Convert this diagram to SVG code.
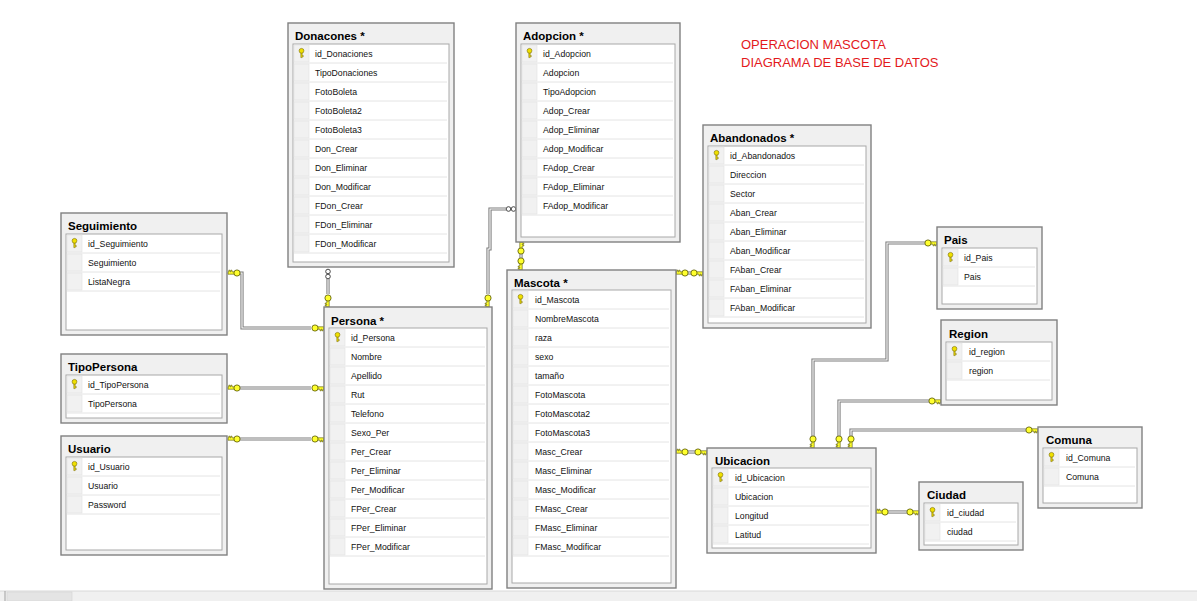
<svg xmlns="http://www.w3.org/2000/svg" xmlns:xlink="http://www.w3.org/1999/xlink" width="1197" height="601" viewBox="0 0 1197 601">
<style>
.ob{fill:#f0f0f0;stroke:#808080;stroke-width:1.4}
.ib{fill:#ffffff;stroke:#a8a8a8;stroke-width:1}
.ic{fill:#f1f1f1;stroke:#e2e2e2;stroke-width:0.6}
.sep{stroke:#e4e4e4;stroke-width:1}
.t{font-family:"Liberation Sans",Arial,sans-serif;font-weight:bold;font-size:11.5px;fill:#000}
.r{font-family:"Liberation Sans",Arial,sans-serif;font-size:8.7px;fill:#111}
.c1{fill:none;stroke:#7d7d7d;stroke-width:3.2}
.c2{fill:none;stroke:#ffffff;stroke-width:1.1}
.red{font-family:"Liberation Sans",Arial,sans-serif;font-size:13px;fill:#e3191c}
</style>
<defs>
<g id="k">
<path d="M2.5,-1.2 H9 V1.2 H8.2 V2.8 H7 V1.2 H6.2 V2.8 H5 V1.2 H2.5 Z" fill="#ffff2e" stroke="#555500" stroke-width="0.6"/>
<circle r="3.1" fill="#ffff2e" stroke="#555500" stroke-width="0.8"/>
</g>
<g id="pk">
<path d="M-0.7,-0.5 V4.6 H0.7 V3.6 H1.8 V2.6 H0.7 V-0.5 Z" fill="#e8d800" stroke="#7a6c00" stroke-width="0.5"/>
<circle cy="-2.2" r="2.4" fill="#efe000" stroke="#7a6c00" stroke-width="0.6"/>
</g>
<g id="inf">
<circle cx="-2.5" r="2.3" fill="#fff" stroke="#333" stroke-width="0.9"/>
<circle cx="2.5" r="2.3" fill="#fff" stroke="#333" stroke-width="0.9"/>
</g>
</defs>
<rect width="1197" height="601" fill="#ffffff"/>

<g id="connectors">
<path class="c1" d="M240,273 H242 V328 H311"/><path class="c2" d="M240,273 H242 V328 H311"/>
<path class="c1" d="M240,388 H311"/><path class="c2" d="M240,388 H311"/>
<path class="c1" d="M240,439 H311"/><path class="c2" d="M240,439 H311"/>
<path class="c1" d="M328,279 V294"/><path class="c2" d="M328,279 V294"/>
<path class="c1" d="M506,209 H490 V249 H488 V294"/><path class="c2" d="M506,209 H490 V249 H488 V294"/>
<path class="c1" d="M521,254 V258"/><path class="c2" d="M521,254 V258"/>
<path class="c1" d="M688,273 H691"/><path class="c2" d="M688,273 H691"/>
<path class="c1" d="M688,452 H695"/><path class="c2" d="M688,452 H695"/>
<path class="c1" d="M813,436 V360 H887 V243 H925"/><path class="c2" d="M813,436 V360 H887 V243 H925"/>
<path class="c1" d="M839,436 V401 H929"/><path class="c2" d="M839,436 V401 H929"/>
<path class="c1" d="M851,436 V430 H1026"/><path class="c2" d="M851,436 V430 H1026"/>
<path class="c1" d="M888,512 H907"/><path class="c2" d="M888,512 H907"/>
<use xlink:href="#k" transform="translate(237,273) rotate(180)"/>
<use xlink:href="#k" transform="translate(315,328)"/>
<use xlink:href="#k" transform="translate(237,388) rotate(180)"/>
<use xlink:href="#k" transform="translate(315,388)"/>
<use xlink:href="#k" transform="translate(237,439) rotate(180)"/>
<use xlink:href="#k" transform="translate(315,439)"/>
<use xlink:href="#inf" transform="translate(328,274) rotate(90)"/>
<use xlink:href="#k" transform="translate(328,298) rotate(90)"/>
<use xlink:href="#inf" transform="translate(511,209)"/>
<use xlink:href="#k" transform="translate(488,298) rotate(90)"/>
<use xlink:href="#k" transform="translate(521,251) rotate(-90)"/>
<use xlink:href="#k" transform="translate(521,261) rotate(90)"/>
<use xlink:href="#k" transform="translate(685,273) rotate(180)"/>
<use xlink:href="#k" transform="translate(694,273)"/>
<use xlink:href="#k" transform="translate(685,452) rotate(180)"/>
<use xlink:href="#k" transform="translate(698,452)"/>
<use xlink:href="#k" transform="translate(813,439) rotate(90)"/>
<use xlink:href="#k" transform="translate(928,243)"/>
<use xlink:href="#k" transform="translate(839,439) rotate(90)"/>
<use xlink:href="#k" transform="translate(932,401)"/>
<use xlink:href="#k" transform="translate(851,439) rotate(90)"/>
<use xlink:href="#k" transform="translate(1029,430)"/>
<use xlink:href="#k" transform="translate(885,512) rotate(180)"/>
<use xlink:href="#k" transform="translate(910,512)"/>
</g>

<g id="Donaciones">
<rect class="ob" x="288" y="23" width="166" height="244"/>
<text class="t" x="295" y="40">Donacones *</text>
<rect class="ib" x="293" y="44" width="156" height="218"/>
<rect class="ic" x="294" y="45" width="15" height="17"/><line class="sep" x1="294" y1="63" x2="447" y2="63"/>
<rect class="ic" x="294" y="64" width="15" height="17"/><line class="sep" x1="294" y1="82" x2="447" y2="82"/>
<rect class="ic" x="294" y="83" width="15" height="17"/><line class="sep" x1="294" y1="101" x2="447" y2="101"/>
<rect class="ic" x="294" y="102" width="15" height="17"/><line class="sep" x1="294" y1="120" x2="447" y2="120"/>
<rect class="ic" x="294" y="121" width="15" height="17"/><line class="sep" x1="294" y1="139" x2="447" y2="139"/>
<rect class="ic" x="294" y="140" width="15" height="17"/><line class="sep" x1="294" y1="158" x2="447" y2="158"/>
<rect class="ic" x="294" y="159" width="15" height="17"/><line class="sep" x1="294" y1="177" x2="447" y2="177"/>
<rect class="ic" x="294" y="178" width="15" height="17"/><line class="sep" x1="294" y1="196" x2="447" y2="196"/>
<rect class="ic" x="294" y="197" width="15" height="17"/><line class="sep" x1="294" y1="215" x2="447" y2="215"/>
<rect class="ic" x="294" y="216" width="15" height="17"/><line class="sep" x1="294" y1="234" x2="447" y2="234"/>
<rect class="ic" x="294" y="235" width="15" height="17"/><line class="sep" x1="294" y1="253" x2="447" y2="253"/>
<use xlink:href="#pk" x="301.5" y="53"/>
<text class="r" x="315" y="57">id_Donaciones</text>
<text class="r" x="315" y="76">TipoDonaciones</text>
<text class="r" x="315" y="95">FotoBoleta</text>
<text class="r" x="315" y="114">FotoBoleta2</text>
<text class="r" x="315" y="133">FotoBoleta3</text>
<text class="r" x="315" y="152">Don_Crear</text>
<text class="r" x="315" y="171">Don_Eliminar</text>
<text class="r" x="315" y="190">Don_Modificar</text>
<text class="r" x="315" y="209">FDon_Crear</text>
<text class="r" x="315" y="228">FDon_Eliminar</text>
<text class="r" x="315" y="247">FDon_Modificar</text>
</g>

<g id="Adopcion">
<rect class="ob" x="516" y="23" width="164" height="219"/>
<text class="t" x="523" y="40">Adopcion *</text>
<rect class="ib" x="521" y="44" width="154" height="193"/>
<rect class="ic" x="522" y="45" width="15" height="17"/><line class="sep" x1="522" y1="63" x2="673" y2="63"/>
<rect class="ic" x="522" y="64" width="15" height="17"/><line class="sep" x1="522" y1="82" x2="673" y2="82"/>
<rect class="ic" x="522" y="83" width="15" height="17"/><line class="sep" x1="522" y1="101" x2="673" y2="101"/>
<rect class="ic" x="522" y="102" width="15" height="17"/><line class="sep" x1="522" y1="120" x2="673" y2="120"/>
<rect class="ic" x="522" y="121" width="15" height="17"/><line class="sep" x1="522" y1="139" x2="673" y2="139"/>
<rect class="ic" x="522" y="140" width="15" height="17"/><line class="sep" x1="522" y1="158" x2="673" y2="158"/>
<rect class="ic" x="522" y="159" width="15" height="17"/><line class="sep" x1="522" y1="177" x2="673" y2="177"/>
<rect class="ic" x="522" y="178" width="15" height="17"/><line class="sep" x1="522" y1="196" x2="673" y2="196"/>
<rect class="ic" x="522" y="197" width="15" height="17"/><line class="sep" x1="522" y1="215" x2="673" y2="215"/>
<use xlink:href="#pk" x="529.5" y="53"/>
<text class="r" x="543" y="57">id_Adopcion</text>
<text class="r" x="543" y="76">Adopcion</text>
<text class="r" x="543" y="95">TipoAdopcion</text>
<text class="r" x="543" y="114">Adop_Crear</text>
<text class="r" x="543" y="133">Adop_Eliminar</text>
<text class="r" x="543" y="152">Adop_Modificar</text>
<text class="r" x="543" y="171">FAdop_Crear</text>
<text class="r" x="543" y="190">FAdop_Eliminar</text>
<text class="r" x="543" y="209">FAdop_Modificar</text>
</g>

<g id="Abandonados">
<rect class="ob" x="703" y="125" width="168" height="203"/>
<text class="t" x="710" y="142">Abandonados *</text>
<rect class="ib" x="708" y="146" width="158" height="177"/>
<rect class="ic" x="709" y="147" width="15" height="17"/><line class="sep" x1="709" y1="165" x2="864" y2="165"/>
<rect class="ic" x="709" y="166" width="15" height="17"/><line class="sep" x1="709" y1="184" x2="864" y2="184"/>
<rect class="ic" x="709" y="185" width="15" height="17"/><line class="sep" x1="709" y1="203" x2="864" y2="203"/>
<rect class="ic" x="709" y="204" width="15" height="17"/><line class="sep" x1="709" y1="222" x2="864" y2="222"/>
<rect class="ic" x="709" y="223" width="15" height="17"/><line class="sep" x1="709" y1="241" x2="864" y2="241"/>
<rect class="ic" x="709" y="242" width="15" height="17"/><line class="sep" x1="709" y1="260" x2="864" y2="260"/>
<rect class="ic" x="709" y="261" width="15" height="17"/><line class="sep" x1="709" y1="279" x2="864" y2="279"/>
<rect class="ic" x="709" y="280" width="15" height="17"/><line class="sep" x1="709" y1="298" x2="864" y2="298"/>
<rect class="ic" x="709" y="299" width="15" height="17"/><line class="sep" x1="709" y1="317" x2="864" y2="317"/>
<use xlink:href="#pk" x="716.5" y="155"/>
<text class="r" x="730" y="159">id_Abandonados</text>
<text class="r" x="730" y="178">Direccion</text>
<text class="r" x="730" y="197">Sector</text>
<text class="r" x="730" y="216">Aban_Crear</text>
<text class="r" x="730" y="235">Aban_Eliminar</text>
<text class="r" x="730" y="254">Aban_Modificar</text>
<text class="r" x="730" y="273">FAban_Crear</text>
<text class="r" x="730" y="292">FAban_Eliminar</text>
<text class="r" x="730" y="311">FAban_Modificar</text>
</g>

<g id="Seguimiento">
<rect class="ob" x="61" y="213" width="166" height="122"/>
<text class="t" x="68" y="230">Seguimiento</text>
<rect class="ib" x="66" y="234" width="156" height="96"/>
<rect class="ic" x="67" y="235" width="15" height="17"/><line class="sep" x1="67" y1="253" x2="220" y2="253"/>
<rect class="ic" x="67" y="254" width="15" height="17"/><line class="sep" x1="67" y1="272" x2="220" y2="272"/>
<rect class="ic" x="67" y="273" width="15" height="17"/><line class="sep" x1="67" y1="291" x2="220" y2="291"/>
<use xlink:href="#pk" x="74.5" y="243"/>
<text class="r" x="88" y="247">id_Seguimiento</text>
<text class="r" x="88" y="266">Seguimiento</text>
<text class="r" x="88" y="285">ListaNegra</text>
</g>

<g id="TipoPersona">
<rect class="ob" x="61" y="354" width="166" height="69"/>
<text class="t" x="68" y="371">TipoPersona</text>
<rect class="ib" x="66" y="375" width="156" height="43"/>
<rect class="ic" x="67" y="376" width="15" height="17"/><line class="sep" x1="67" y1="394" x2="220" y2="394"/>
<rect class="ic" x="67" y="395" width="15" height="17"/><line class="sep" x1="67" y1="413" x2="220" y2="413"/>
<use xlink:href="#pk" x="74.5" y="384"/>
<text class="r" x="88" y="388">id_TipoPersona</text>
<text class="r" x="88" y="407">TipoPersona</text>
</g>

<g id="Usuario">
<rect class="ob" x="61" y="436" width="166" height="119"/>
<text class="t" x="68" y="453">Usuario</text>
<rect class="ib" x="66" y="457" width="156" height="93"/>
<rect class="ic" x="67" y="458" width="15" height="17"/><line class="sep" x1="67" y1="476" x2="220" y2="476"/>
<rect class="ic" x="67" y="477" width="15" height="17"/><line class="sep" x1="67" y1="495" x2="220" y2="495"/>
<rect class="ic" x="67" y="496" width="15" height="17"/><line class="sep" x1="67" y1="514" x2="220" y2="514"/>
<use xlink:href="#pk" x="74.5" y="466"/>
<text class="r" x="88" y="470">id_Usuario</text>
<text class="r" x="88" y="489">Usuario</text>
<text class="r" x="88" y="508">Password</text>
</g>

<g id="Persona">
<rect class="ob" x="324" y="307" width="168" height="282"/>
<text class="t" x="331" y="325">Persona *</text>
<rect class="ib" x="329" y="328" width="158" height="256"/>
<rect class="ic" x="330" y="329" width="15" height="17"/><line class="sep" x1="330" y1="347" x2="485" y2="347"/>
<rect class="ic" x="330" y="348" width="15" height="17"/><line class="sep" x1="330" y1="366" x2="485" y2="366"/>
<rect class="ic" x="330" y="367" width="15" height="17"/><line class="sep" x1="330" y1="385" x2="485" y2="385"/>
<rect class="ic" x="330" y="386" width="15" height="17"/><line class="sep" x1="330" y1="404" x2="485" y2="404"/>
<rect class="ic" x="330" y="405" width="15" height="17"/><line class="sep" x1="330" y1="423" x2="485" y2="423"/>
<rect class="ic" x="330" y="424" width="15" height="17"/><line class="sep" x1="330" y1="442" x2="485" y2="442"/>
<rect class="ic" x="330" y="443" width="15" height="17"/><line class="sep" x1="330" y1="461" x2="485" y2="461"/>
<rect class="ic" x="330" y="462" width="15" height="17"/><line class="sep" x1="330" y1="480" x2="485" y2="480"/>
<rect class="ic" x="330" y="481" width="15" height="17"/><line class="sep" x1="330" y1="499" x2="485" y2="499"/>
<rect class="ic" x="330" y="500" width="15" height="17"/><line class="sep" x1="330" y1="518" x2="485" y2="518"/>
<rect class="ic" x="330" y="519" width="15" height="17"/><line class="sep" x1="330" y1="537" x2="485" y2="537"/>
<rect class="ic" x="330" y="538" width="15" height="17"/><line class="sep" x1="330" y1="556" x2="485" y2="556"/>
<use xlink:href="#pk" x="337.5" y="337"/>
<text class="r" x="351" y="341">id_Persona</text>
<text class="r" x="351" y="360">Nombre</text>
<text class="r" x="351" y="379">Apellido</text>
<text class="r" x="351" y="398">Rut</text>
<text class="r" x="351" y="417">Telefono</text>
<text class="r" x="351" y="436">Sexo_Per</text>
<text class="r" x="351" y="455">Per_Crear</text>
<text class="r" x="351" y="474">Per_Eliminar</text>
<text class="r" x="351" y="493">Per_Modificar</text>
<text class="r" x="351" y="512">FPer_Crear</text>
<text class="r" x="351" y="531">FPer_Eliminar</text>
<text class="r" x="351" y="550">FPer_Modificar</text>
</g>

<g id="Mascota">
<rect class="ob" x="507" y="270" width="169" height="318"/>
<text class="t" x="514" y="287">Mascota *</text>
<rect class="ib" x="512" y="290" width="159" height="293"/>
<rect class="ic" x="513" y="291" width="15" height="17"/><line class="sep" x1="513" y1="309" x2="669" y2="309"/>
<rect class="ic" x="513" y="310" width="15" height="17"/><line class="sep" x1="513" y1="328" x2="669" y2="328"/>
<rect class="ic" x="513" y="329" width="15" height="17"/><line class="sep" x1="513" y1="347" x2="669" y2="347"/>
<rect class="ic" x="513" y="348" width="15" height="17"/><line class="sep" x1="513" y1="366" x2="669" y2="366"/>
<rect class="ic" x="513" y="367" width="15" height="17"/><line class="sep" x1="513" y1="385" x2="669" y2="385"/>
<rect class="ic" x="513" y="386" width="15" height="17"/><line class="sep" x1="513" y1="404" x2="669" y2="404"/>
<rect class="ic" x="513" y="405" width="15" height="17"/><line class="sep" x1="513" y1="423" x2="669" y2="423"/>
<rect class="ic" x="513" y="424" width="15" height="17"/><line class="sep" x1="513" y1="442" x2="669" y2="442"/>
<rect class="ic" x="513" y="443" width="15" height="17"/><line class="sep" x1="513" y1="461" x2="669" y2="461"/>
<rect class="ic" x="513" y="462" width="15" height="17"/><line class="sep" x1="513" y1="480" x2="669" y2="480"/>
<rect class="ic" x="513" y="481" width="15" height="17"/><line class="sep" x1="513" y1="499" x2="669" y2="499"/>
<rect class="ic" x="513" y="500" width="15" height="17"/><line class="sep" x1="513" y1="518" x2="669" y2="518"/>
<rect class="ic" x="513" y="519" width="15" height="17"/><line class="sep" x1="513" y1="537" x2="669" y2="537"/>
<rect class="ic" x="513" y="538" width="15" height="17"/><line class="sep" x1="513" y1="556" x2="669" y2="556"/>
<use xlink:href="#pk" x="520.5" y="299"/>
<text class="r" x="535" y="303">id_Mascota</text>
<text class="r" x="535" y="322">NombreMascota</text>
<text class="r" x="535" y="341">raza</text>
<text class="r" x="535" y="360">sexo</text>
<text class="r" x="535" y="379">tamaño</text>
<text class="r" x="535" y="398">FotoMascota</text>
<text class="r" x="535" y="417">FotoMascota2</text>
<text class="r" x="535" y="436">FotoMascota3</text>
<text class="r" x="535" y="455">Masc_Crear</text>
<text class="r" x="535" y="474">Masc_Eliminar</text>
<text class="r" x="535" y="493">Masc_Modificar</text>
<text class="r" x="535" y="512">FMasc_Crear</text>
<text class="r" x="535" y="531">FMasc_Eliminar</text>
<text class="r" x="535" y="550">FMasc_Modificar</text>
</g>

<g id="Ubicacion">
<rect class="ob" x="707" y="448" width="169" height="105"/>
<text class="t" x="715" y="465">Ubicacion</text>
<rect class="ib" x="712" y="468" width="159" height="80"/>
<rect class="ic" x="713" y="469" width="15" height="17"/><line class="sep" x1="713" y1="487" x2="869" y2="487"/>
<rect class="ic" x="713" y="488" width="15" height="17"/><line class="sep" x1="713" y1="506" x2="869" y2="506"/>
<rect class="ic" x="713" y="507" width="15" height="17"/><line class="sep" x1="713" y1="525" x2="869" y2="525"/>
<rect class="ic" x="713" y="526" width="15" height="17"/><line class="sep" x1="713" y1="544" x2="869" y2="544"/>
<use xlink:href="#pk" x="720.5" y="477"/>
<text class="r" x="735" y="481">id_Ubicacion</text>
<text class="r" x="735" y="500">Ubicacion</text>
<text class="r" x="735" y="519">Longitud</text>
<text class="r" x="735" y="538">Latitud</text>
</g>

<g id="Pais">
<rect class="ob" x="937" y="227" width="105" height="82"/>
<text class="t" x="944" y="244">Pais</text>
<rect class="ib" x="942" y="248" width="95" height="56"/>
<rect class="ic" x="943" y="249" width="15" height="17"/><line class="sep" x1="943" y1="267" x2="1035" y2="267"/>
<rect class="ic" x="943" y="268" width="15" height="17"/><line class="sep" x1="943" y1="286" x2="1035" y2="286"/>
<use xlink:href="#pk" x="950.5" y="257"/>
<text class="r" x="964" y="261">id_Pais</text>
<text class="r" x="964" y="280">Pais</text>
</g>

<g id="Region">
<rect class="ob" x="941" y="320" width="116" height="85"/>
<text class="t" x="949" y="338">Region</text>
<rect class="ib" x="946" y="342" width="106" height="58"/>
<rect class="ic" x="947" y="343" width="15" height="17"/><line class="sep" x1="947" y1="361" x2="1050" y2="361"/>
<rect class="ic" x="947" y="362" width="15" height="17"/><line class="sep" x1="947" y1="380" x2="1050" y2="380"/>
<use xlink:href="#pk" x="954.5" y="351"/>
<text class="r" x="969" y="355">id_region</text>
<text class="r" x="969" y="374">region</text>
</g>

<g id="Comuna">
<rect class="ob" x="1038" y="427" width="104" height="81"/>
<text class="t" x="1046" y="444">Comuna</text>
<rect class="ib" x="1043" y="448" width="94" height="55"/>
<rect class="ic" x="1044" y="449" width="15" height="17"/><line class="sep" x1="1044" y1="467" x2="1135" y2="467"/>
<rect class="ic" x="1044" y="468" width="15" height="17"/><line class="sep" x1="1044" y1="486" x2="1135" y2="486"/>
<use xlink:href="#pk" x="1051.5" y="457"/>
<text class="r" x="1066" y="461">id_Comuna</text>
<text class="r" x="1066" y="480">Comuna</text>
</g>

<g id="Ciudad">
<rect class="ob" x="919" y="482" width="104" height="68"/>
<text class="t" x="927" y="499">Ciudad</text>
<rect class="ib" x="924" y="503" width="94" height="42"/>
<rect class="ic" x="925" y="504" width="15" height="17"/><line class="sep" x1="925" y1="522" x2="1016" y2="522"/>
<rect class="ic" x="925" y="523" width="15" height="17"/><line class="sep" x1="925" y1="541" x2="1016" y2="541"/>
<use xlink:href="#pk" x="932.5" y="512"/>
<text class="r" x="947" y="516">id_ciudad</text>
<text class="r" x="947" y="535">ciudad</text>
</g>

<g id="title">
<text class="red" x="741" y="49">OPERACION MASCOTA</text>
<text class="red" x="741" y="67">DIAGRAMA DE BASE DE DATOS</text>
</g>

<g id="scrollbar">
<rect x="0" y="591" width="1197" height="10" fill="#f0f0f0"/>
<line x1="0" y1="591" x2="1197" y2="591" stroke="#d8d8d8" stroke-width="1"/>
<line x1="5" y1="591" x2="5" y2="601" stroke="#a0a0a0" stroke-width="1"/>
<rect x="7" y="592" width="65" height="9" fill="#e4e4e4" stroke="#d2d2d2" stroke-width="0.6"/>
</g>
</svg>
